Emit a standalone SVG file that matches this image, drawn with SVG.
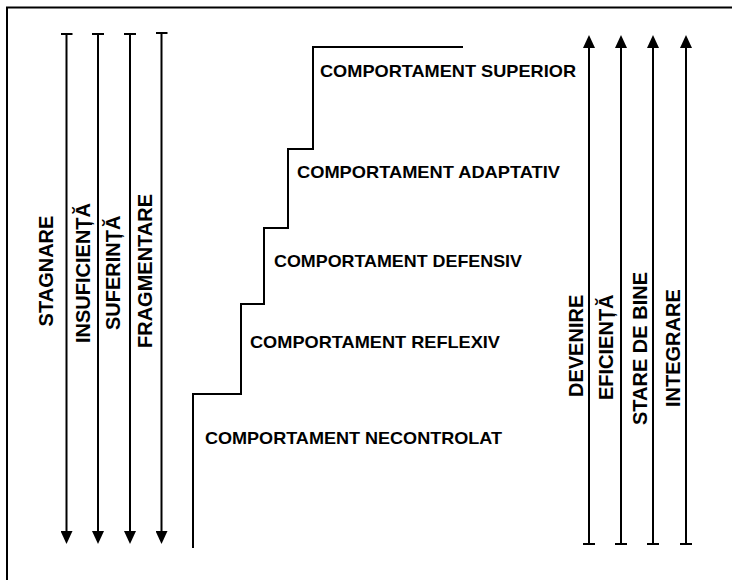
<svg xmlns="http://www.w3.org/2000/svg" width="738" height="580" viewBox="0 0 738 580">
  <defs>
    <!-- arrowhead: base at the line end, tip 13px further along -->
    <marker id="head" viewBox="0 0 13 12" refX="0" refY="6" markerWidth="13" markerHeight="12" markerUnits="userSpaceOnUse" orient="auto-start-reverse">
      <path d="M0,0 L13,6 L0,12 Z" fill="#000"/>
    </marker>
    <!-- flat end bar across the line -->
    <marker id="bar" viewBox="0 0 2 12" refX="1" refY="6" markerWidth="2" markerHeight="12" markerUnits="userSpaceOnUse" orient="auto">
      <rect x="0" y="0" width="2" height="12" fill="#000"/>
    </marker>
  </defs>
  <style>
    .frame { fill: none; stroke: #000; stroke-width: 2; }
    .axis { fill: none; stroke: #000; stroke-width: 2; }
    .down { marker-start: url(#bar); marker-end: url(#head); }
    .up { marker-start: url(#head); marker-end: url(#bar); }
    .stair { fill: none; stroke: #000; stroke-width: 2; }
    .lvl { font-family: "Liberation Sans", Arial, sans-serif; font-weight: bold; font-size: 17px; fill: #000; }
    .ax { font-family: "Liberation Sans", Arial, sans-serif; font-weight: bold; font-size: 20px; fill: #000; }
  </style>
  <rect width="738" height="580" fill="#fff"/>

  <!-- open frame: left and top edges -->
  <path class="frame" d="M7,580 V7.5 H732"/>

  <!-- descending axes (left) -->
  <g id="down-axes">
    <g id="stagnare">
      <line class="axis down" x1="66.5" y1="34" x2="66.5" y2="531"/>
      <text class="ax" transform="translate(53,271) rotate(-90)" text-anchor="middle">STAGNARE</text>
    </g>
    <g id="insuficienta">
      <line class="axis down" x1="98" y1="34" x2="98" y2="531"/>
      <text class="ax" transform="translate(90,343) rotate(-90)">INSUFICIENȚĂ</text>
    </g>
    <g id="suferinta">
      <line class="axis down" x1="130" y1="34" x2="130" y2="531"/>
      <text class="ax" transform="translate(120,330) rotate(-90)">SUFERINȚĂ</text>
    </g>
    <g id="fragmentare">
      <line class="axis down" x1="161.5" y1="33" x2="161.5" y2="531"/>
      <text class="ax" transform="translate(152,348) rotate(-90)">FRAGMENTARE</text>
    </g>
  </g>

  <!-- ascending axes (right) -->
  <g id="up-axes">
    <g id="devenire">
      <line class="axis up" x1="589" y1="48" x2="589" y2="544"/>
      <text class="ax" transform="translate(583,397) rotate(-90)">DEVENIRE</text>
    </g>
    <g id="eficienta">
      <line class="axis up" x1="621" y1="48" x2="621" y2="544"/>
      <text class="ax" transform="translate(613,400) rotate(-90)">EFICIENȚĂ</text>
    </g>
    <g id="stare-de-bine">
      <line class="axis up" x1="653" y1="48" x2="653" y2="544"/>
      <text class="ax" transform="translate(647,425) rotate(-90)">STARE DE BINE</text>
    </g>
    <g id="integrare">
      <line class="axis up" x1="686" y1="48" x2="686" y2="544"/>
      <text class="ax" transform="translate(680,407) rotate(-90)">INTEGRARE</text>
    </g>
  </g>

  <!-- staircase of behaviour levels -->
  <path id="staircase" class="stair" d="M193,548 V394 H241 V304 H264 V228 H288 V149 H313 V47 H463"/>

  <g id="levels">
    <g id="necontrolat"><text class="lvl" x="205" y="444" textLength="297" lengthAdjust="spacingAndGlyphs">COMPORTAMENT NECONTROLAT</text></g>
    <g id="reflexiv"><text class="lvl" x="250" y="348" textLength="250" lengthAdjust="spacingAndGlyphs">COMPORTAMENT REFLEXIV</text></g>
    <g id="defensiv"><text class="lvl" x="274" y="267" textLength="248" lengthAdjust="spacingAndGlyphs">COMPORTAMENT DEFENSIV</text></g>
    <g id="adaptativ"><text class="lvl" x="297" y="178" textLength="263" lengthAdjust="spacingAndGlyphs">COMPORTAMENT ADAPTATIV</text></g>
    <g id="superior"><text class="lvl" x="320" y="77" textLength="256" lengthAdjust="spacingAndGlyphs">COMPORTAMENT SUPERIOR</text></g>
  </g>
</svg>
